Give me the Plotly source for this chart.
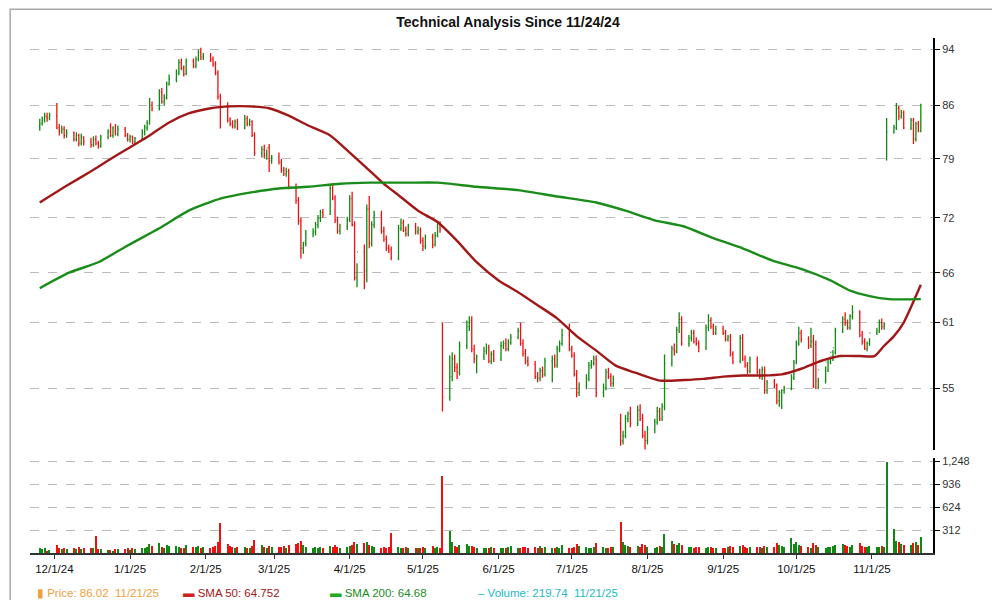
import pandas as pd
import plotly.graph_objects as go

dates = pd.bdate_range("2024-11-25", "2025-11-21")

opens = [
83.2,83.6,84.0,84.5,84.3, 84.5,83.0,82.5,82.8,82.0, 82.3,81.5,82.0,81.0,81.8, 81.2,80.8,81.5,81.0,80.6,
81.8,82.5,82.0,82.6,82.2, 82.8,82.0,81.5,81.8,81.2, 81.6,82.4,83.0,83.6,86.0, 85.5,87.8,86.5,87.0,89.0,
89.6,90.5,92.0,91.2,90.4, 92.2,91.5,92.5,93.5,92.8, 93.0,92.5,91.8,90.5,87.2, 86.0,84.0,83.5,83.2,83.8,
83.0,84.2,83.5,83.8,82.0, 79.7,80.2,79.4,80.4,78.8, 79.3,78.6,77.6,77.2,77.5, 75.6,74.0,71.6,68.6,69.2,
70.2,70.4,71.2,71.9,72.6, 72.4,75.4,74.3,71.7,70.5, 71.0,71.8,74.2,71.2,65.5, 68.2,66.2,73.0,69.2,71.2,
72.3,70.5,69.6,68.6,68.4, 67.6,70.8,71.4,70.6,70.2, 71.0,70.4,70.6,69.4,68.8, 69.8,69.0,70.0,71.3,61.0,
54.2,56.0,57.6,56.8,56.4, 58.8,60.6,61.2,58.5,57.6, 57.8,58.3,58.6,57.4,58.0, 57.6,58.8,59.0,58.5,59.1,
59.6,60.2,59.0,58.1,57.4, 57.1,56.0,55.9,56.5,56.2, 57.4,57.6,57.0,58.5,59.0, 59.8,58.5,57.9,56.2,54.6,
55.2,55.8,57.0,57.2,57.6, 54.6,55.0,56.4,56.0,55.4, 52.0,50.6,51.0,52.4,52.8, 52.0,53.1,52.4,51.0,50.6,
51.5,52.1,53.0,52.4,53.4, 57.2,58.5,58.3,60.3,61.3, 59.0,59.5,60.0,59.2,59.0, 58.6,60.5,61.2,60.6,60.0,
60.4,60.0,59.4,59.6,58.0, 57.4,59.5,57.6,57.0,56.5, 57.5,56.4,56.0,56.6,54.8, 55.5,55.2,53.9,54.6,54.8,
55.0,55.9,57.3,59.0,60.0, 59.4,58.8,59.2,58.9,55.1, 55.6,56.6,57.3,57.6,58.2, 60.2,61.3,61.0,60.5,61.6,
62.0,59.8,59.2,58.5,59.0, 60.0,60.2,61.0,60.6,79.0, 82.5,83.0,85.6,84.5,85.0, 83.0,84.0,81.5,83.5,82.6]

highs = [
84.2,84.5,85.0,85.0,85.0, 86.3,83.5,83.3,83.2,82.8, 82.5,82.4,82.2,82.2,81.9, 81.7,81.9,82.0,81.3,82.1,
82.8,83.6,83.2,83.5,83.3, 83.1,82.3,82.1,82.0,81.8, 82.8,83.4,84.0,87.0,86.5, 88.2,88.4,87.5,89.3,90.3,
91.0,92.5,92.6,91.6,92.6, 92.6,92.9,93.9,94.2,93.4, 93.4,92.9,92.2,90.9,87.6, 86.4,84.4,84.0,84.1,84.2,
84.7,84.6,84.2,84.0,82.4, 80.6,80.8,80.2,80.9,79.5, 79.8,79.0,78.0,77.9,77.8, 76.0,74.4,72.0,69.3,70.6,
70.8,71.5,72.3,72.9,73.0, 75.9,76.0,74.6,72.1,71.3, 72.1,74.6,75.0,71.6,67.0, 69.0,73.5,74.5,71.6,72.8,
72.8,71.0,70.0,69.0,68.8, 71.2,71.9,71.8,71.0,71.3, 71.4,71.0,70.9,69.8,70.1, 70.2,70.4,71.6,71.6,61.0,
57.9,58.2,58.0,57.2,59.2, 61.2,61.6,61.6,58.9,58.0, 58.7,59.0,58.9,58.3,58.4, 59.2,59.3,59.5,59.4,59.9,
60.5,61.0,59.4,58.5,57.8, 57.4,56.4,56.8,56.9,57.7, 57.9,58.0,58.8,59.3,60.4, 60.9,58.8,58.2,56.6,55.5,
56.2,57.3,57.5,57.9,57.9, 55.4,56.7,56.8,56.3,56.1, 52.8,51.4,52.7,53.0,53.4, 53.5,53.6,52.8,51.4,51.8,
52.4,53.4,53.3,53.7,58.0, 58.8,59.0,60.6,62.0,61.6, 59.8,60.3,60.3,59.6,59.3, 60.8,61.8,61.5,60.9,60.7,
60.7,60.3,59.8,59.9,58.3, 59.8,59.9,57.9,57.3,57.8, 57.8,56.7,56.9,56.9,55.7, 55.8,55.4,54.8,54.9,55.2,
56.2,57.5,59.3,60.6,60.3, 59.7,60.5,59.8,59.3,55.9, 56.9,57.5,57.8,58.4,60.5, 61.6,62.0,61.3,61.8,62.7,
62.2,60.2,59.5,59.2,59.5, 60.5,61.3,61.4,61.0,84.3, 83.4,86.3,85.9,85.4,85.3, 84.3,84.3,83.8,83.9,86.2]

lows = [
82.6,83.3,83.7,83.8,84.0, 82.8,82.0,82.2,81.6,81.7, 81.2,81.2,80.6,80.7,80.7, 80.4,80.5,80.7,80.3,80.4,
81.5,81.8,81.7,82.0,81.9, 81.8,81.2,81.1,80.9,80.8, 81.3,82.0,82.6,83.4,85.2, 85.3,86.2,86.0,86.8,88.7,
89.2,90.2,90.9,90.0,90.2, 91.2,91.2,92.2,92.4,92.4, 92.1,91.4,90.2,86.8,82.9, 83.7,83.2,82.9,82.9,82.7,
82.8,83.2,83.2,81.8,79.4, 79.2,79.1,78.9,77.4,78.4, 78.3,77.3,76.9,76.8,75.3, 73.6,71.2,67.5,68.0,68.8,
69.8,70.0,70.8,71.5,72.0, 72.3,74.0,71.4,70.2,70.1, 70.6,71.5,71.0,65.2,64.5, 64.3,65.0,68.6,68.8,70.8,
70.2,69.3,68.3,68.1,67.3, 67.3,70.5,70.4,69.9,69.9, 70.1,70.1,69.1,68.3,68.5, 68.6,68.8,69.8,70.3,53.0,
53.9,55.6,56.4,55.8,56.1, 58.5,60.2,58.2,57.2,56.3, 57.5,58.0,57.2,57.1,57.3, 57.4,58.5,58.3,58.3,58.9,
59.4,58.8,57.8,57.1,56.9, 55.8,55.5,55.6,55.9,56.0, 55.5,56.8,56.8,58.2,58.8, 58.3,57.7,56.0,54.2,54.3,
54.9,55.6,56.7,57.0,54.2, 54.2,54.8,55.8,55.1,55.1, 50.2,50.3,50.8,52.1,51.7, 51.8,52.2,50.8,49.9,50.3,
51.2,51.9,52.2,52.2,53.1, 56.9,57.9,58.1,60.0,58.8, 58.7,59.2,59.0,58.8,58.2, 58.4,60.2,60.4,59.8,59.8,
59.8,59.2,59.2,57.8,57.1, 57.2,57.4,56.8,56.2,56.3, 56.2,55.8,55.7,54.5,54.5, 55.0,53.6,53.4,53.2,54.5,
54.8,55.7,57.1,58.8,59.1, 58.5,58.6,55.0,54.9,54.9, 55.4,56.4,57.1,57.4,58.0, 60.0,60.7,60.3,60.3,61.3,
59.6,58.9,58.4,58.3,58.8, 59.8,60.0,60.3,60.3,78.8, 82.2,82.7,84.0,84.2,82.8, 82.7,80.9,81.2,82.4,82.4]

closes = [
83.5,84.0,84.5,84.3,84.6, 83.0,82.5,82.8,82.0,82.3, 81.5,82.0,81.0,81.8,81.2, 80.8,81.5,81.0,80.6,81.8,
82.5,82.0,83.0,82.2,82.8, 82.0,81.5,81.8,81.2,81.6, 82.4,83.0,83.6,86.0,85.5, 87.8,86.5,87.0,89.0,89.6,
90.5,92.0,91.2,90.4,92.2, 91.5,92.5,93.5,92.8,93.0, 92.5,91.8,90.5,87.2,86.0, 84.0,83.5,83.2,83.8,83.0,
84.2,83.5,83.8,82.0,79.7, 80.2,79.4,80.4,78.8,79.3, 78.6,77.6,77.2,77.5,75.6, 74.0,71.6,68.6,69.2,70.2,
70.4,71.2,71.9,72.6,72.4, 75.4,74.3,71.7,70.5,71.0, 71.8,74.2,71.2,65.5,68.2, 66.2,73.0,69.2,71.2,72.3,
70.5,69.6,68.6,68.4,67.6, 70.8,71.4,70.6,70.2,71.0, 70.4,70.6,69.4,68.8,69.8, 69.0,70.0,71.3,70.6,54.2,
56.0,57.6,56.8,56.4,58.8, 60.6,61.2,58.5,57.6,57.8, 58.3,58.6,57.4,58.0,57.6, 58.8,59.0,58.5,59.1,59.6,
60.2,59.0,58.1,57.4,57.1, 56.0,55.9,56.5,56.2,57.4, 57.6,57.0,58.5,59.0,59.8, 58.5,57.9,56.2,54.6,55.2,
55.8,57.0,57.2,57.6,54.6, 55.0,56.4,56.0,55.4,55.8, 50.6,51.0,52.4,52.8,52.0, 53.1,52.4,51.0,50.6,51.5,
52.1,53.0,52.4,53.4,57.2, 58.5,58.3,60.3,61.3,59.0, 59.5,60.0,59.2,59.0,58.6, 60.5,61.2,60.6,60.0,60.4,
60.0,59.4,59.6,58.0,57.4, 59.5,57.6,57.0,56.5,57.5, 56.4,56.0,56.6,54.8,55.5, 55.2,53.9,54.6,54.8,55.0,
55.9,57.3,59.0,60.0,59.4, 58.8,59.2,55.1,55.6,56.6, 57.3,57.6,58.2,58.6,60.2, 61.3,61.0,60.5,61.6,62.0,
59.8,59.2,58.5,59.0,60.0, 60.2,61.0,60.6,60.8,82.5, 83.0,85.6,84.5,85.0,83.0, 84.0,81.5,83.5,82.6,86.02]

volumes = [
60,45,70,30,40, 110,70,55,60,50, 65,50,75,55,60, 60,70,230,55,50,
40,35,30,45,50, 55,60,40,70,55, 65,60,80,120,90, 130,80,70,110,95,
90,85,70,60,100, 80,75,90,70,85, 70,80,95,150,410, 120,90,80,70,75,
85,60,70,90,180, 100,80,70,90,85, 80,75,90,70,110, 120,130,160,100,80,
70,75,65,80,70, 90,80,100,85,70, 80,90,110,150,120, 130,140,110,90,80,
70,80,60,75,270, 80,70,60,75,65, 70,60,70,80,65, 90,70,80,60,1050,
300,140,90,80,110, 120,95,90,80,70, 60,70,65,75,60, 70,60,65,80,90,
70,60,75,80,70, 80,70,90,60,80, 70,60,80,70,100, 60,70,80,120,90,
80,70,60,80,130, 80,70,65,80,75, 420,150,110,90,80, 90,80,120,100,85,
70,80,90,75,250, 160,120,110,130,100, 80,75,70,80,75, 70,80,75,70,65,
60,70,80,90,85, 90,100,80,70,80, 75,80,70,90,85, 80,130,110,90,80,
200,120,150,110,90, 80,70,130,100,80, 70,80,75,90,110, 120,100,90,80,110,
130,90,80,85,90, 80,75,90,80,1230, 330,160,140,120,110, 110,130,140,100,219.74]

sma50_dates = ["2024-11-25","2024-12-07","2024-12-15","2024-12-23","2024-12-31","2025-01-09","2025-01-17",
"2025-01-25","2025-02-03","2025-02-11","2025-02-19","2025-02-27","2025-03-07","2025-03-15","2025-03-24",
"2025-04-01","2025-04-09","2025-04-15","2025-04-21","2025-04-29","2025-05-07","2025-05-15","2025-05-23",
"2025-06-01","2025-06-09","2025-06-17","2025-06-25","2025-07-03","2025-07-11","2025-07-19","2025-07-27",
"2025-08-06","2025-08-16","2025-08-24","2025-09-01","2025-09-09","2025-09-17","2025-09-25","2025-10-03",
"2025-10-11","2025-10-19","2025-10-27","2025-11-02","2025-11-06","2025-11-10","2025-11-14","2025-11-21"]
sma50_values = [73.75,75.9,77.3,78.8,80.3,82.0,83.7,84.9,85.6,85.85,85.85,85.6,84.6,83.3,82.0,
79.8,77.6,75.96,74.6,72.8,71.5,69.4,67.1,65.2,64.0,62.7,61.4,59.7,58.35,56.98,56.35,
55.65,55.7,55.8,56.0,56.1,56.1,56.2,56.7,57.4,57.85,57.85,57.85,58.8,59.7,61.0,64.75]

sma200_dates = ["2024-11-25","2024-12-07","2024-12-19","2024-12-31","2025-01-13","2025-01-25","2025-02-07",
"2025-02-19","2025-03-03","2025-03-15","2025-03-28","2025-04-09","2025-04-25","2025-05-07","2025-05-23",
"2025-06-09","2025-06-25","2025-07-11","2025-07-23","2025-08-04","2025-08-16","2025-08-28","2025-09-09",
"2025-09-21","2025-10-03","2025-10-15","2025-10-23","2025-10-31","2025-11-08","2025-11-21"]
sma200_values = [64.4,66.0,67.1,68.9,70.8,72.8,74.2,74.9,75.4,75.6,75.96,76.1,76.1,76.1,75.6,
75.2,74.45,73.75,72.8,71.7,71.0,69.7,68.6,67.3,66.4,65.2,64.15,63.6,63.3,63.3]

price_ticks = [55, 61, 66, 72, 79, 86, 94]
vol_ticks = [312, 624, 936, 1248]
vol_tick_text = ["312", "624", "936", "1,248"]

GREEN = "#118811"
RED = "#ee1111"

fig = go.Figure()
fig.add_trace(go.Ohlc(x=dates, open=opens, high=highs, low=lows, close=closes,
                      increasing=dict(line=dict(color=GREEN, width=1.3)),
                      decreasing=dict(line=dict(color=RED, width=1.3)),
                      tickwidth=0.35, showlegend=False, hoverinfo="skip", xaxis="x", yaxis="y"))
fig.add_trace(go.Scatter(x=pd.to_datetime(sma50_dates), y=sma50_values, mode="lines",
                         line=dict(color="#a01818", width=2.4, shape="spline", smoothing=0.6),
                         showlegend=False, xaxis="x", yaxis="y"))
fig.add_trace(go.Scatter(x=pd.to_datetime(sma200_dates), y=sma200_values, mode="lines",
                         line=dict(color="#1a8c1a", width=2.4, shape="spline", smoothing=0.6),
                         showlegend=False, xaxis="x", yaxis="y"))

vcolors = [GREEN if c >= o else RED for o, c in zip(opens, closes)]
fig.add_trace(go.Bar(x=dates, y=volumes, marker=dict(color=vcolors, line=dict(width=0)),
                     width=86400000 * 0.5, showlegend=False, xaxis="x2", yaxis="y2"))

xr = ["2024-11-21", "2025-11-26"]
common_y = dict(side="right", showgrid=True, gridcolor="#bbb", griddash="dash", ticks="outside",
                ticklen=5, tickcolor="#000", showline=True, linecolor="#000", linewidth=2,
                tickfont=dict(size=11, color="#333"), zeroline=False)

legend_items = [
    (0.0055, "▮", "#f0a040", " Price: 86.02  11/21/25", "#f0a040"),
    (0.167, "▬", "#cc2222", " SMA 50: 64.752", "#a01818"),
    (0.33, "▬", "#22aa22", " SMA 200: 64.68", "#1a8c1a"),
    (0.494, "–", "#22b8c8", " Volume: 219.74  11/21/25", "#22b8c8"),
]
annotations = []
for xp, sym, sc, txt, tc in legend_items:
    annotations.append(dict(xref="paper", yref="paper", x=xp, y=-0.078, xanchor="left", yanchor="middle",
                            showarrow=False,
                            text=f"<span style='color:{sc}'>{sym}</span><span style='color:{tc}'>{txt}</span>",
                            font=dict(size=11.5, family="Arial, Liberation Sans")))

fig.update_layout(
    width=1000, height=600,
    title=dict(text="<b>Technical Analysis Since 11/24/24</b>", x=0.5, y=0.985, xanchor="center",
               font=dict(size=14, color="#111", family="Arial, Liberation Sans")),
    margin=dict(l=22, r=75, t=30, b=55),
    plot_bgcolor="white", paper_bgcolor="white",
    font=dict(family="Arial, Liberation Sans"),
    bargap=0,
    xaxis=dict(range=xr, showgrid=False, rangeslider=dict(visible=False), showticklabels=False,
               anchor="y", matches="x2"),
    xaxis2=dict(range=xr, showgrid=False, tickformat="%-m/%-d/%y", dtick="M1", tick0="2024-12-01",
                ticks="outside", ticklen=4, tickcolor="#333", tickfont=dict(size=11.5, color="#111"),
                showline=True, linecolor="#333", linewidth=2, anchor="y2"),
    yaxis=dict(type="log", range=[1.6978, 1.9807], domain=[0.2, 1], tickvals=price_ticks,
               ticktext=[str(v) for v in price_ticks], **common_y),
    yaxis2=dict(range=[0, 1289], domain=[0, 0.184], tickvals=vol_ticks, ticktext=vol_tick_text, **common_y),
    annotations=annotations,
    shapes=[dict(type="rect", xref="paper", yref="paper", x0=-0.022, x1=1.083, y0=-0.104, y1=1.056,
                 line=dict(color="#aaa", width=1.5))],
)

fig.write_html("out.html")
